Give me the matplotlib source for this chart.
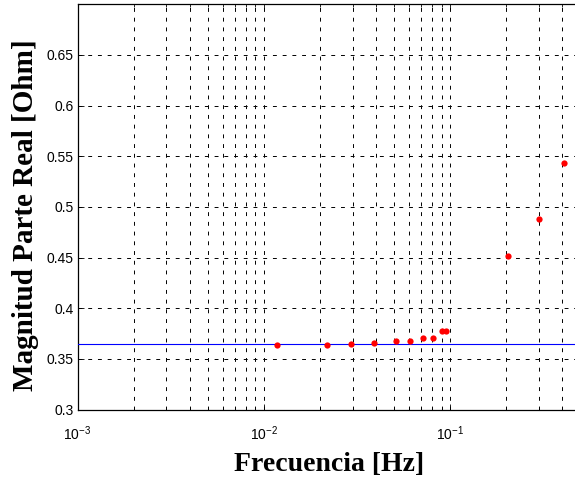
import matplotlib
matplotlib.use("Agg")
import matplotlib.pyplot as plt
import matplotlib.ticker as mticker
import numpy as np

freq = [0.0118, 0.0218, 0.0294, 0.0391, 0.0513, 0.0609, 0.0712, 0.0806, 0.0903, 0.0945, 0.205, 0.298, 0.407]
real_part = [0.3635, 0.3635, 0.3648, 0.3661, 0.3680, 0.3680, 0.3706, 0.3706, 0.3777, 0.3777, 0.4515, 0.4882, 0.5431]
ref_level = 0.3642
x_limits = [1e-3, 0.5]
y_limits = [0.3, 0.7]
y_ticks = [0.3, 0.35, 0.4, 0.45, 0.5, 0.55, 0.6, 0.65]
y_tick_labels = ["0.3", "0.35", "0.4", "0.45", "0.5", "0.55", "0.6", "0.65"]

plt.rcParams['font.family'] = ['Liberation Sans', 'DejaVu Sans']
plt.rcParams['mathtext.default'] = 'regular'

fig = plt.figure(figsize=(5.75, 4.78), dpi=100)
W, H = 575, 478
left_px, right_px = 77.5, 77.5 + 186.35 * np.log10(x_limits[1] / x_limits[0])
bottom_px, top_px = 409.5, 4.3
ax_w, ax_h = right_px - left_px, bottom_px - top_px
ax = fig.add_axes([left_px / W, (H - bottom_px) / H, ax_w / W, ax_h / H])

ax.set_xscale('log')
ax.set_xlim(x_limits)
ax.set_ylim(y_limits)

ax.axhline(ref_level, color='#0000ff', lw=0.8, zorder=3)
ax.plot(freq, real_part, 'o', color='red', markersize=4.5, markeredgewidth=0, zorder=4)

ax.set_yticks(y_ticks)
ax.set_yticklabels(y_tick_labels)
ax.xaxis.set_major_locator(mticker.LogLocator(base=10, numticks=10))
ax.xaxis.set_minor_locator(mticker.LogLocator(base=10, subs=np.arange(2, 10), numticks=10))
ax.xaxis.set_minor_formatter(mticker.NullFormatter())

ax.tick_params(which='both', direction='in', top=True, right=True, labelsize=10, colors='k', width=0.6)
ax.tick_params(which='major', length=4)
ax.tick_params(which='minor', length=2.5)
ax.tick_params(axis='x', pad=11)
ax.tick_params(axis='y', pad=3)

grid_kw = dict(color='k', lw=0.7, linestyle=(0, (4, 6)))
ax.grid(True, which='major', axis='both', **grid_kw)
ax.grid(True, which='minor', axis='x', **grid_kw)
ax.set_axisbelow(True)

for s in ax.spines.values():
    s.set_linewidth(0.9)

ax.set_xlabel('Frecuencia [Hz]', family=['Liberation Serif'], fontweight='bold', fontsize=20, labelpad=6)
ax.set_ylabel('Magnitud Parte Real [Ohm]', family=['Liberation Serif'], fontweight='bold', fontsize=21)
ax.yaxis.set_label_coords((39 - left_px) / ax_w, 0.5 - 8 / ax_h)

fig.savefig('out.png', dpi=100)
